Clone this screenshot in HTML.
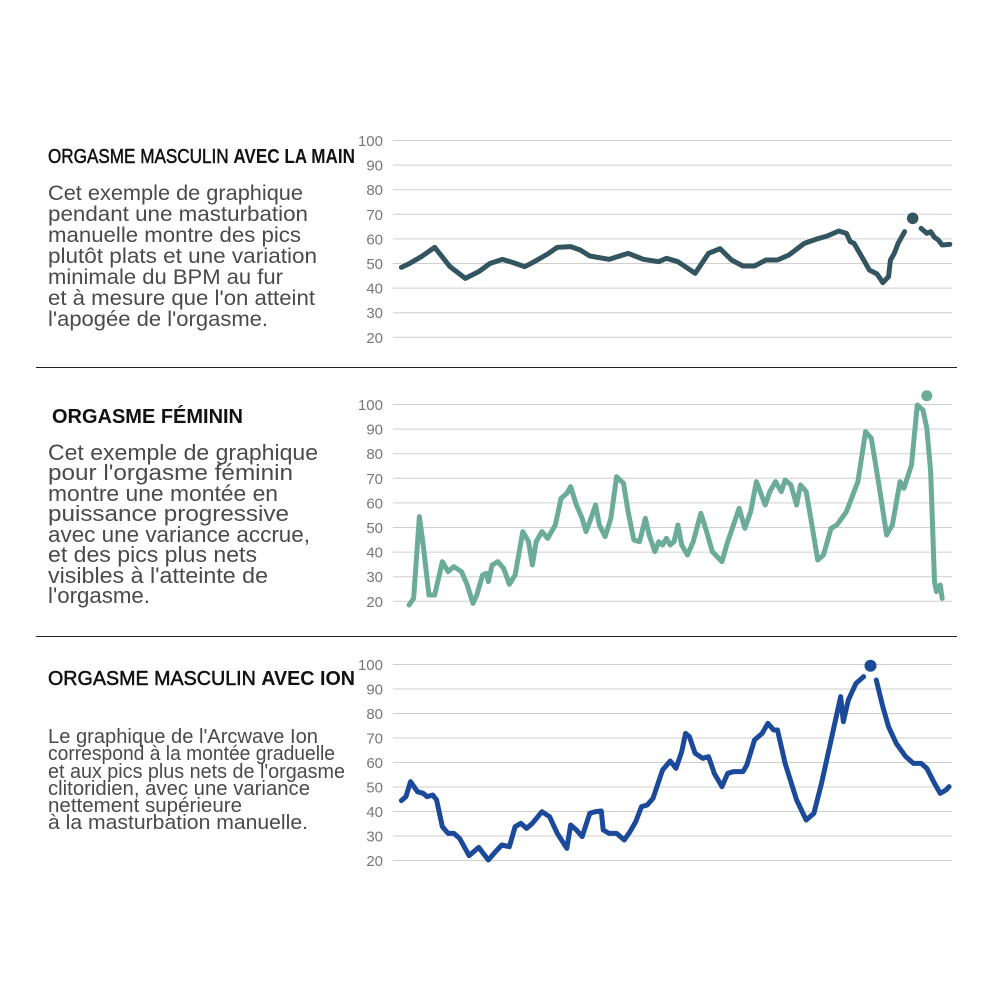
<!DOCTYPE html>
<html><head><meta charset="utf-8"><style>
html,body{margin:0;padding:0;background:#fff;}
svg{display:block;}
.t{font-family:"Liberation Sans",sans-serif;font-size:20px;fill:#111;}
.m{stroke:#111;stroke-width:0.5;}
.b{font-family:"Liberation Sans",sans-serif;fill:#4a4a4a;}
.y{font-family:"Liberation Sans",sans-serif;font-size:15px;fill:#777;text-anchor:end;}
.g{stroke:#cfcfcf;stroke-width:1;}
.s{fill:none;stroke-width:5;stroke-linejoin:round;stroke-linecap:round;}
</style></head><body>
<svg width="1000" height="1000" viewBox="0 0 1000 1000" xmlns="http://www.w3.org/2000/svg">
<rect width="1000" height="1000" fill="#fff"/>
<line x1="36" y1="367.5" x2="957" y2="367.5" stroke="#222" stroke-width="1"/>
<line x1="36" y1="636.5" x2="957" y2="636.5" stroke="#222" stroke-width="1"/>

<!-- Titles -->
<text class="t" x="48" y="163" textLength="307" lengthAdjust="spacingAndGlyphs"><tspan class="m">ORGASME MASCULIN </tspan><tspan font-weight="bold">AVEC LA MAIN</tspan></text>
<text class="t" x="52" y="423" font-weight="bold" textLength="191" lengthAdjust="spacingAndGlyphs">ORGASME FÉMININ</text>
<text class="t" x="48" y="685" textLength="307" lengthAdjust="spacingAndGlyphs"><tspan class="m">ORGASME MASCULIN </tspan><tspan font-weight="bold">AVEC ION</tspan></text>

<!-- Body 1 -->
<g class="b" font-size="21">
<text x="48" y="200" textLength="255" lengthAdjust="spacingAndGlyphs">Cet exemple de graphique</text>
<text x="48" y="221" textLength="260" lengthAdjust="spacingAndGlyphs">pendant une masturbation</text>
<text x="48" y="242" textLength="253" lengthAdjust="spacingAndGlyphs">manuelle montre des pics</text>
<text x="48" y="263" textLength="269" lengthAdjust="spacingAndGlyphs">plutôt plats et une variation</text>
<text x="48" y="284" textLength="235" lengthAdjust="spacingAndGlyphs">minimale du BPM au fur</text>
<text x="48" y="305" textLength="267" lengthAdjust="spacingAndGlyphs">et à mesure que l'on atteint</text>
<text x="48" y="326" textLength="220" lengthAdjust="spacingAndGlyphs">l'apogée de l'orgasme.</text>
</g>
<!-- Body 2 -->
<g class="b" font-size="22">
<text x="48" y="460" textLength="270" lengthAdjust="spacingAndGlyphs">Cet exemple de graphique</text>
<text x="48" y="480" textLength="245" lengthAdjust="spacingAndGlyphs">pour l'orgasme féminin</text>
<text x="48" y="501" textLength="230" lengthAdjust="spacingAndGlyphs">montre une montée en</text>
<text x="48" y="521" textLength="241" lengthAdjust="spacingAndGlyphs">puissance progressive</text>
<text x="48" y="542" textLength="262" lengthAdjust="spacingAndGlyphs">avec une variance accrue,</text>
<text x="48" y="562" textLength="209" lengthAdjust="spacingAndGlyphs">et des pics plus nets</text>
<text x="48" y="583" textLength="220" lengthAdjust="spacingAndGlyphs">visibles à l'atteinte de</text>
<text x="48" y="603" textLength="102" lengthAdjust="spacingAndGlyphs">l'orgasme.</text>
</g>
<!-- Body 3 -->
<g class="b" font-size="20">
<text x="48" y="743" textLength="270" lengthAdjust="spacingAndGlyphs">Le graphique de l'Arcwave Ion</text>
<text x="48" y="760" textLength="287" lengthAdjust="spacingAndGlyphs">correspond à la montée graduelle</text>
<text x="48" y="778" textLength="297" lengthAdjust="spacingAndGlyphs">et aux pics plus nets de l'orgasme</text>
<text x="48" y="795" textLength="262" lengthAdjust="spacingAndGlyphs">clitoridien, avec une variance</text>
<text x="48" y="812" textLength="194" lengthAdjust="spacingAndGlyphs">nettement supérieure</text>
<text x="48" y="829" textLength="260" lengthAdjust="spacingAndGlyphs">à la masturbation manuelle.</text>
</g>

<!-- Chart 1 grid -->
<g>
<line class="g" x1="393" x2="952" y1="140.5" y2="140.5"/><line class="g" x1="393" x2="952" y1="165.1" y2="165.1"/>
<line class="g" x1="393" x2="952" y1="189.7" y2="189.7"/><line class="g" x1="393" x2="952" y1="214.3" y2="214.3"/>
<line class="g" x1="393" x2="952" y1="238.9" y2="238.9"/><line class="g" x1="393" x2="952" y1="263.5" y2="263.5"/>
<line class="g" x1="393" x2="952" y1="288.1" y2="288.1"/><line class="g" x1="393" x2="952" y1="312.7" y2="312.7"/>
<line class="g" x1="393" x2="952" y1="337.3" y2="337.3"/>
<text class="y" x="383" y="146">100</text><text class="y" x="383" y="170.6">90</text><text class="y" x="383" y="195.2">80</text>
<text class="y" x="383" y="219.8">70</text><text class="y" x="383" y="244.4">60</text><text class="y" x="383" y="269">50</text>
<text class="y" x="383" y="293.6">40</text><text class="y" x="383" y="318.2">30</text><text class="y" x="383" y="342.8">20</text>
</g>
<g transform="translate(360,130) scale(0.383,0.33333)" stroke="#33555f">
<path class="s" vector-effect="non-scaling-stroke" d="M108,412 L130,400 L160,380 L195,352 L235,410 L275,445 L310,425 L340,400 L372,388 L400,398 L430,410 L455,395 L490,372 L515,352 L550,350 L575,360 L600,378 L650,388 L700,370 L740,388 L780,395 L800,385 L830,395 L875,430 L910,370 L940,356 L970,390 L1000,408 L1030,408 L1060,390 L1090,390 L1120,375 L1160,340 L1190,328 L1220,318 L1250,303 L1270,310 L1280,335 L1290,340 L1310,380 L1330,420 L1350,432 L1365,458 L1380,440 L1385,390 L1395,370 L1405,340 L1422,305"/>
<path class="s" vector-effect="non-scaling-stroke" d="M1465,295 L1480,310 L1490,305 L1500,322 L1510,330 L1520,345 L1540,343"/>
</g>
<circle cx="912.7" cy="218.3" r="5.8" fill="#33555f"/>

<!-- Chart 2 grid -->
<g>
<line class="g" x1="393" x2="952" y1="404.5" y2="404.5"/><line class="g" x1="393" x2="952" y1="429.1" y2="429.1"/>
<line class="g" x1="393" x2="952" y1="453.7" y2="453.7"/><line class="g" x1="393" x2="952" y1="478.3" y2="478.3"/>
<line class="g" x1="393" x2="952" y1="502.9" y2="502.9"/><line class="g" x1="393" x2="952" y1="527.5" y2="527.5"/>
<line class="g" x1="393" x2="952" y1="552.1" y2="552.1"/><line class="g" x1="393" x2="952" y1="576.7" y2="576.7"/>
<line class="g" x1="393" x2="952" y1="601.3" y2="601.3"/>
<text class="y" x="383" y="410">100</text><text class="y" x="383" y="434.6">90</text><text class="y" x="383" y="459.2">80</text>
<text class="y" x="383" y="483.8">70</text><text class="y" x="383" y="508.4">60</text><text class="y" x="383" y="533">50</text>
<text class="y" x="383" y="557.6">40</text><text class="y" x="383" y="582.2">30</text><text class="y" x="383" y="606.8">20</text>
</g>
<g transform="translate(360,385) scale(0.383,0.33333)" stroke="#6bac99">
<path class="s" vector-effect="non-scaling-stroke" d="M128,660 L140,640 L155,395 L165,480 L180,630 L195,630 L215,530 L230,560 L245,545 L265,560 L280,600 L295,655 L305,630 L320,570 L330,565 L335,590 L345,540 L360,530 L375,550 L390,598 L405,570 L425,440 L440,470 L450,540 L460,470 L475,440 L490,460 L500,440 L510,420 L525,340 L540,325 L550,305 L565,360 L580,400 L590,440 L600,410 L615,360 L625,420 L640,455 L655,400 L670,275 L688,295 L700,380 L715,465 L730,470 L745,400 L755,450 L770,500 L780,470 L790,480 L800,460 L810,480 L820,470 L830,420 L840,480 L855,510 L870,470 L890,385 L905,440 L920,500 L945,530 L960,470 L990,370 L1005,430 L1020,380 L1035,290 L1045,320 L1058,360 L1070,320 L1085,290 L1100,320 L1110,285 L1125,300 L1130,320 L1140,360 L1150,300 L1165,320 L1180,420 L1195,525 L1210,510 L1230,430 L1245,420 L1270,380 L1300,290 L1320,140 L1335,160 L1355,300 L1375,450 L1390,420 L1410,290 L1420,310 L1440,240 L1455,60 L1470,75 L1480,130 L1490,260 L1500,590 L1505,620 L1515,600 L1520,640"/>
</g>
<circle cx="926.8" cy="395.7" r="5.5" fill="#6bac99"/>

<!-- Chart 3 grid -->
<g>
<line class="g" x1="393" x2="952" y1="664.5" y2="664.5"/><line class="g" x1="393" x2="952" y1="689" y2="689"/>
<line class="g" x1="393" x2="952" y1="713.5" y2="713.5"/><line class="g" x1="393" x2="952" y1="738" y2="738"/>
<line class="g" x1="393" x2="952" y1="762.5" y2="762.5"/><line class="g" x1="393" x2="952" y1="787" y2="787"/>
<line class="g" x1="393" x2="952" y1="811.5" y2="811.5"/><line class="g" x1="393" x2="952" y1="836" y2="836"/>
<line class="g" x1="393" x2="952" y1="860.5" y2="860.5"/>
<text class="y" x="383" y="670">100</text><text class="y" x="383" y="694.5">90</text><text class="y" x="383" y="719">80</text>
<text class="y" x="383" y="743.5">70</text><text class="y" x="383" y="768">60</text><text class="y" x="383" y="792.5">50</text>
<text class="y" x="383" y="817">40</text><text class="y" x="383" y="841.5">30</text><text class="y" x="383" y="866">20</text>
</g>
<g transform="translate(360,650) scale(0.383,0.33333)" stroke="#1b4a9a">
<path class="s" vector-effect="non-scaling-stroke" d="M108,452 L120,440 L132,395 L150,425 L165,430 L175,440 L190,435 L200,450 L215,530 L230,550 L245,550 L260,565 L285,617 L310,592 L335,630 L350,610 L370,585 L390,590 L405,530 L420,520 L435,535 L450,520 L475,485 L495,500 L515,550 L540,595 L550,525 L565,540 L580,560 L600,490 L615,485 L630,483 L635,540 L650,550 L670,550 L690,570 L705,545 L720,515 L735,470 L750,465 L765,445 L790,360 L810,333 L825,355 L840,305 L850,250 L860,260 L875,310 L895,325 L910,320 L925,370 L945,410 L960,370 L975,365 L1000,365 L1010,345 L1030,270 L1050,250 L1065,220 L1080,240 L1090,240 L1110,340 L1140,450 L1165,510 L1185,490 L1205,400 L1230,270 L1255,140 L1262,215 L1275,150 L1295,100 L1305,90 L1315,80"/>
<path class="s" vector-effect="non-scaling-stroke" d="M1348,90 L1365,170 L1380,230 L1400,280 L1425,320 L1445,340 L1465,340 L1480,355 L1500,400 L1515,430 L1530,420 L1538,410"/>
</g>
<circle cx="870.5" cy="665.7" r="6" fill="#1b4a9a"/>
</svg>
</body></html>
